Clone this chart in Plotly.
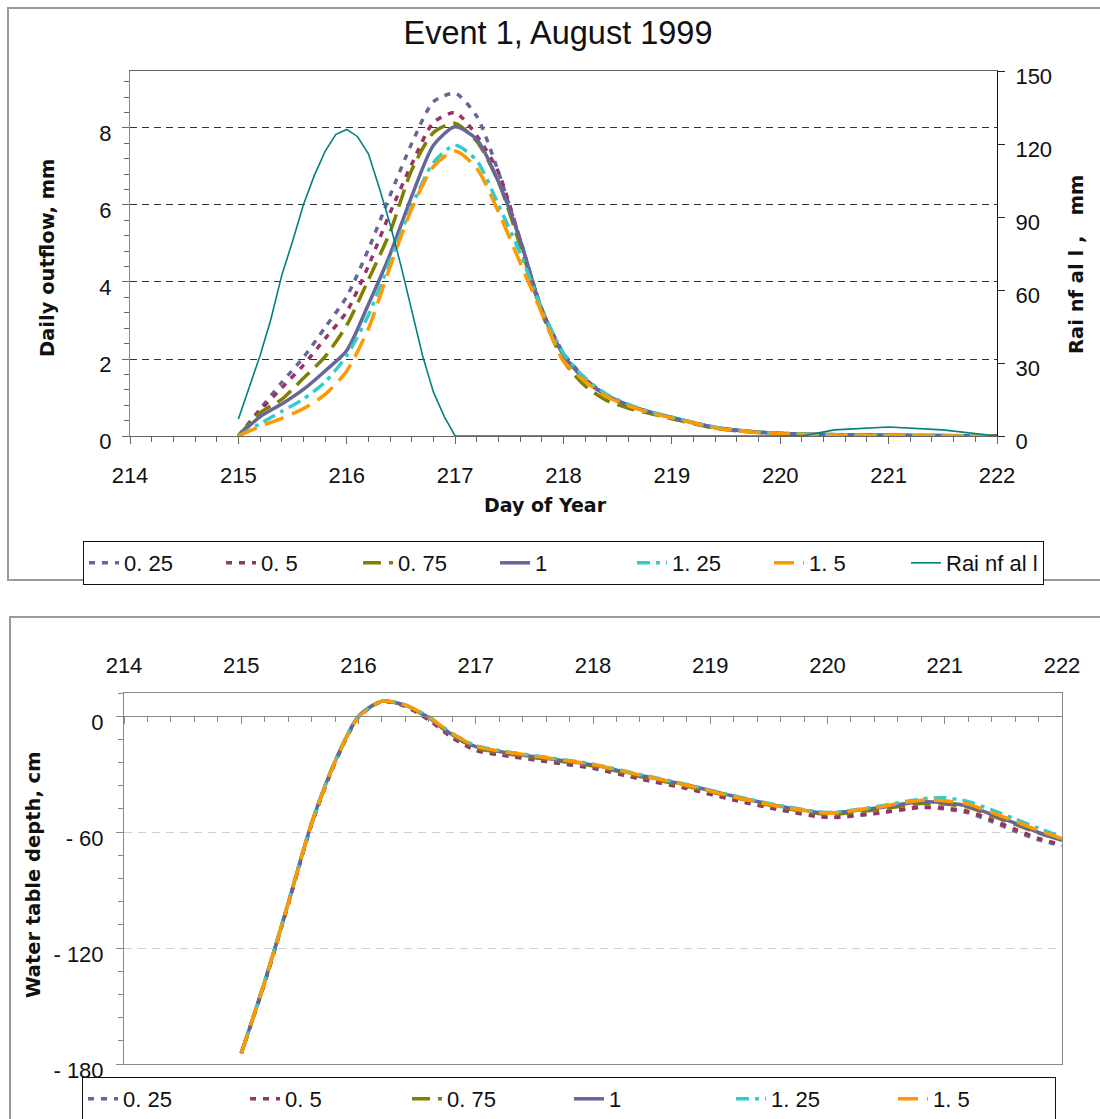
import plotly.graph_objects as go

# ---------------- data ----------------
# Daily outflow (mm) for the six parameter multipliers
day_q = [215.0, 215.2, 215.4, 215.6, 215.8, 216.0, 216.2, 216.4, 216.6, 216.8,
         217.0, 217.2, 217.4, 217.6, 217.8, 218.0, 218.2, 218.4, 218.6, 218.8,
         219.0, 219.4, 219.8, 220.2, 220.6, 221.0, 221.5, 222.0]
q_025 = [0, 0.70, 1.39, 2.04, 2.82, 3.62, 4.85, 6.25, 7.60, 8.68, 8.90, 8.30, 6.85, 5.10,
         3.30, 2.15, 1.50, 1.05, 0.80, 0.62, 0.48, 0.22, 0.10, 0.05, 0.03, 0.02, 0.01, 0.0]
q_050 = [0, 0.66, 1.25, 1.84, 2.53, 3.23, 4.42, 5.80, 7.06, 8.14, 8.40, 7.80, 6.85, 5.10,
         3.30, 2.10, 1.48, 1.05, 0.80, 0.62, 0.48, 0.22, 0.10, 0.05, 0.03, 0.02, 0.01, 0.0]
q_075 = [0, 0.60, 0.95, 1.50, 2.06, 2.88, 4.06, 5.30, 6.91, 7.88, 8.12, 7.65, 6.60, 4.95,
         3.20, 1.95, 1.30, 0.92, 0.72, 0.58, 0.45, 0.20, 0.09, 0.04, 0.02, 0.01, 0.0, 0.0]
q_100 = [0, 0.50, 0.83, 1.21, 1.69, 2.22, 3.42, 4.72, 6.23, 7.55, 8.03, 7.70, 6.60, 5.09,
         3.25, 2.10, 1.45, 1.05, 0.80, 0.62, 0.48, 0.22, 0.10, 0.05, 0.03, 0.02, 0.01, 0.0]
q_125 = [0, 0.32, 0.64, 0.96, 1.40, 2.09, 3.14, 4.55, 5.97, 7.10, 7.55, 7.15, 6.00, 4.75,
         3.30, 2.15, 1.50, 1.08, 0.82, 0.63, 0.49, 0.23, 0.10, 0.05, 0.03, 0.02, 0.01, 0.0]
q_150 = [0, 0.25, 0.46, 0.71, 1.08, 1.69, 2.79, 4.40, 5.90, 7.00, 7.40, 6.95, 5.82, 4.50,
         3.20, 1.95, 1.42, 1.02, 0.78, 0.60, 0.47, 0.21, 0.09, 0.04, 0.02, 0.01, 0.0, 0.0]

# Rainfall (mm)
day_rain = [215.0, 215.1, 215.2, 215.3, 215.4, 215.5, 215.6, 215.7, 215.8, 215.9,
            216.0, 216.1, 216.2, 216.3, 216.4, 216.5, 216.6, 216.7, 216.8, 216.9,
            217.0, 218.0, 219.0, 220.0, 220.2, 220.5, 221.0, 221.5, 221.8, 222.0]
rain = [7, 20, 33, 48, 66, 80, 95, 107, 117, 124,
        126, 123, 116, 102, 87, 70, 52, 33, 18, 8,
        0, 0, 0, 0, 0, 2.5, 3.7, 2.5, 1.0, 0]

# Water table depth (cm)
day_wt = [215.0, 215.2, 215.4, 215.6, 215.8, 216.0, 216.2, 216.4, 216.6, 216.8,
          217.0, 217.2, 217.6, 218.0, 218.4, 218.8, 219.2, 219.6, 220.0, 220.4,
          220.8, 221.0, 221.2, 221.4, 221.6, 221.8, 222.0]
wt_025 = [-174.5, -138.0, -97.5, -56.0, -24.0, -0.5, 7.6, 5.0, -2.0, -11.2,
          -17.8, -20.0, -23.5, -27.0, -32.5, -37.5, -43.4, -48.6, -52.5, -50.5,
          -47.3, -48.0, -50.0, -54.5, -59.5, -64.0, -67.0]
wt_050 = [-174.5, -138.0, -97.5, -56.0, -24.0, -0.5, 7.6, 5.2, -1.8, -11.0,
          -17.5, -19.8, -23.3, -26.8, -32.3, -37.3, -43.2, -48.4, -52.2, -50.3,
          -47.0, -47.6, -49.3, -53.5, -58.5, -63.2, -66.5]
wt_075 = [-174.5, -137.5, -97.0, -55.5, -23.6, -0.2, 7.7, 5.5, -1.0, -10.0,
          -16.3, -18.8, -22.3, -25.8, -31.2, -36.3, -42.0, -47.2, -50.8, -48.5,
          -45.2, -45.5, -47.2, -51.5, -56.0, -60.5, -64.0]
wt_100 = [-174.5, -137.5, -97.0, -55.5, -23.5, 0.0, 7.8, 5.6, -0.8, -9.6,
          -15.8, -18.3, -21.8, -25.2, -30.6, -35.6, -41.4, -46.6, -50.1, -47.6,
          -44.3, -44.8, -46.6, -50.8, -55.4, -60.2, -64.2]
wt_125 = [-174.5, -137.0, -96.5, -55.0, -23.0, 0.0, 7.8, 5.8, -0.3, -9.0,
          -15.2, -17.8, -21.3, -24.8, -30.2, -35.3, -41.2, -46.3, -49.8, -47.0,
          -42.8, -42.2, -44.2, -48.5, -53.2, -58.0, -62.5]
wt_150 = [-174.5, -137.5, -97.0, -55.5, -23.6, -0.5, 7.8, 5.7, -0.5, -9.1,
          -15.5, -18.0, -21.5, -25.0, -30.5, -35.7, -41.7, -46.8, -50.2, -47.3,
          -43.5, -43.8, -45.5, -49.8, -54.4, -59.1, -63.3]

series_names = ["0. 25", "0. 5", "0. 75", "1", "1. 25", "1. 5"]
rain_name = "Rai nf al l"
outflow_series = [q_025, q_050, q_075, q_100, q_125, q_150]
wt_series = [wt_025, wt_050, wt_075, wt_100, wt_125, wt_150]

day_range = [214, 222]
outflow_range = [0, 9.48]
rain_range = [0, 150]
wt_range = [-180, 12]
wt_tick_vals = [-180, -120, -60, 0]
wt_tick_text = ["- 180", "- 120", "- 60", "0"]

# ---------------- styling ----------------
W, H = 1100, 1119
colors = ["#666699", "#993366", "#808000", "#666699", "#33CCCC", "#FF9900"]
dashes = ["6px,7px", "6px,7px", "18px,8px", "solid", "13px,6px,4px,6px", "20px,9px"]
TICK_FONT = dict(family="Liberation Sans, Arial, sans-serif", size=22, color="#111")
TITLE_FONT = dict(family="DejaVu Sans, Verdana, sans-serif", size=19.5, color="#111",
                  weight="bold")


def px(x):
    return x / W


def py(y):
    return 1 - y / H


top_dom_x = [px(130), px(997)]
top_dom_y = [py(436), py(71)]
bot_dom_x = [px(124), px(1062)]
bot_dom_y = [py(1064), py(693)]

fig = go.Figure()

# upper panel: outflow curves
for name, q, c, d in zip(series_names, outflow_series, colors, dashes):
    fig.add_trace(go.Scatter(
        x=day_q, y=q, name=name, mode="lines", xaxis="x", yaxis="y",
        legend="legend",
        line=dict(color=c, width=3.5, dash=d, shape="spline", smoothing=0.7)))

# upper panel: rainfall on the secondary axis
fig.add_trace(go.Scatter(
    x=day_rain, y=rain, name=rain_name, mode="lines", xaxis="x", yaxis="y2",
    legend="legend", line=dict(color="#008080", width=1.6)))

# lower panel: water table depth
for i, (name, wt, c, d) in enumerate(zip(series_names, wt_series, colors, dashes)):
    fig.add_trace(go.Scatter(
        x=day_wt, y=wt, name=name, mode="lines",
        xaxis="x3" if i == len(wt_series) - 1 else "x2", yaxis="y3",
        legend="legend2",
        line=dict(color=c, width=3.5, dash=d, shape="spline", smoothing=0.7)))

# position of the zero line in the lower panel (paper units)
zero_frac = (0 - wt_range[0]) / (wt_range[1] - wt_range[0])
zero_paper = bot_dom_y[0] + zero_frac * (bot_dom_y[1] - bot_dom_y[0])

axis_common = dict(showgrid=False, zeroline=False, tickfont=TICK_FONT,
                   automargin=False)

fig.update_layout(
    width=W, height=H,
    margin=dict(l=0, r=0, t=0, b=0, autoexpand=False),
    paper_bgcolor="white", plot_bgcolor="white",
    title=dict(text="Event 1, August 1999", x=px(558), xanchor="center",
               y=py(33), yanchor="middle", automargin=False,
               font=dict(family="Liberation Sans, Arial, sans-serif", size=32.5,
                         color="#111")),
    xaxis=dict(domain=top_dom_x, anchor="y", range=day_range, dtick=1, tick0=214,
               ticks="outside", ticklen=7, tickcolor="#666",
               showline=True, linecolor="#666", mirror=True,
               minor=dict(dtick=0.2, tick0=214, ticks="outside", ticklen=5,
                          tickcolor="#666", showgrid=False),
               ticklabelstandoff=13, **axis_common),
    yaxis=dict(domain=top_dom_y, anchor="x", range=outflow_range, dtick=2, tick0=0,
               ticks="outside", ticklen=7, tickcolor="#666",
               showline=True, linecolor="#888", automargin=False,
               showgrid=True, gridcolor="#333", griddash="7px,5px", gridwidth=1,
               zeroline=False, tickfont=TICK_FONT,
               minor=dict(dtick=0.4, tick0=0, ticks="outside", ticklen=5,
                          tickcolor="#666", showgrid=False),
               ticklabelstandoff=6, ticklabelshift=5),
    yaxis2=dict(overlaying="y", side="right", anchor="x", range=rain_range,
                dtick=30, tick0=0, ticks="outside", ticklen=7, tickcolor="#222",
                showline=True, linecolor="#111", ticklabelstandoff=6,
                ticklabelshift=5, **axis_common),
    xaxis2=dict(domain=bot_dom_x, anchor="y3", side="top", range=day_range,
                dtick=1, tick0=214, ticks="", showline=True, linecolor="#888",
                mirror=True, ticklabelstandoff=10, **axis_common),
    xaxis3=dict(overlaying="x2", anchor="free", position=zero_paper, side="bottom",
                range=day_range, dtick=1, tick0=214, ticks="outside", ticklen=7,
                tickcolor="#888", showticklabels=False, showline=True,
                linecolor="#888", automargin=False,
                minor=dict(dtick=0.2, tick0=214, ticks="outside", ticklen=5,
                           tickcolor="#888", showgrid=False),
                showgrid=False, zeroline=False),
    yaxis3=dict(domain=bot_dom_y, anchor="x2", range=wt_range,
                tickmode="array", tickvals=wt_tick_vals, ticktext=wt_tick_text,
                ticks="outside", ticklen=7, tickcolor="#888",
                showline=True, linecolor="#888", mirror=True, automargin=False,
                showgrid=True, gridcolor="#cfcfcf", griddash="8px,6px",
                zeroline=False, tickfont=TICK_FONT,
                minor=dict(tickmode="linear", dtick=12, tick0=0, ticks="outside",
                           ticklen=5, tickcolor="#888", showgrid=False),
                ticklabelstandoff=8, ticklabelshift=6),
    legend=dict(orientation="h", x=px(83), y=py(541), xanchor="left",
                yanchor="top", bordercolor="#111", borderwidth=1,
                bgcolor="white", font=TICK_FONT, entrywidth=92,
                itemclick=False, itemdoubleclick=False),
    legend2=dict(orientation="h", x=px(82), y=py(1077), xanchor="left",
                 yanchor="top", bordercolor="#111", borderwidth=1,
                 bgcolor="white", font=TICK_FONT, entrywidth=117,
                 itemclick=False, itemdoubleclick=False),
)

# axis titles
title_kw = dict(xref="paper", yref="paper", showarrow=False,
                xanchor="center", yanchor="middle")
fig.add_annotation(text="Daily outflow, mm", x=px(48), y=py(258), textangle=-90,
                   font=TITLE_FONT, **title_kw)
fig.add_annotation(text="Rai nf al l ,   mm", x=px(1077), y=py(265), textangle=-90,
                   font=TITLE_FONT, **title_kw)
fig.add_annotation(text="Day of Year", x=px(545), y=py(505),
                   font=dict(TITLE_FONT, size=19), **title_kw)
fig.add_annotation(text="Water table depth, cm", x=px(33), y=py(875), textangle=-90,
                   font=TITLE_FONT, **title_kw)

# outer frames of the two chart panels
fig.add_shape(type="rect", xref="paper", yref="paper", x0=px(8), x1=px(1106),
              y0=py(580), y1=py(8), line=dict(color="#9a9a9a", width=2),
              layer="below")
fig.add_shape(type="rect", xref="paper", yref="paper", x0=px(10), x1=px(1106),
              y0=py(1126), y1=py(617), line=dict(color="#9a9a9a", width=2),
              layer="below")

fig.write_html("out.html")
